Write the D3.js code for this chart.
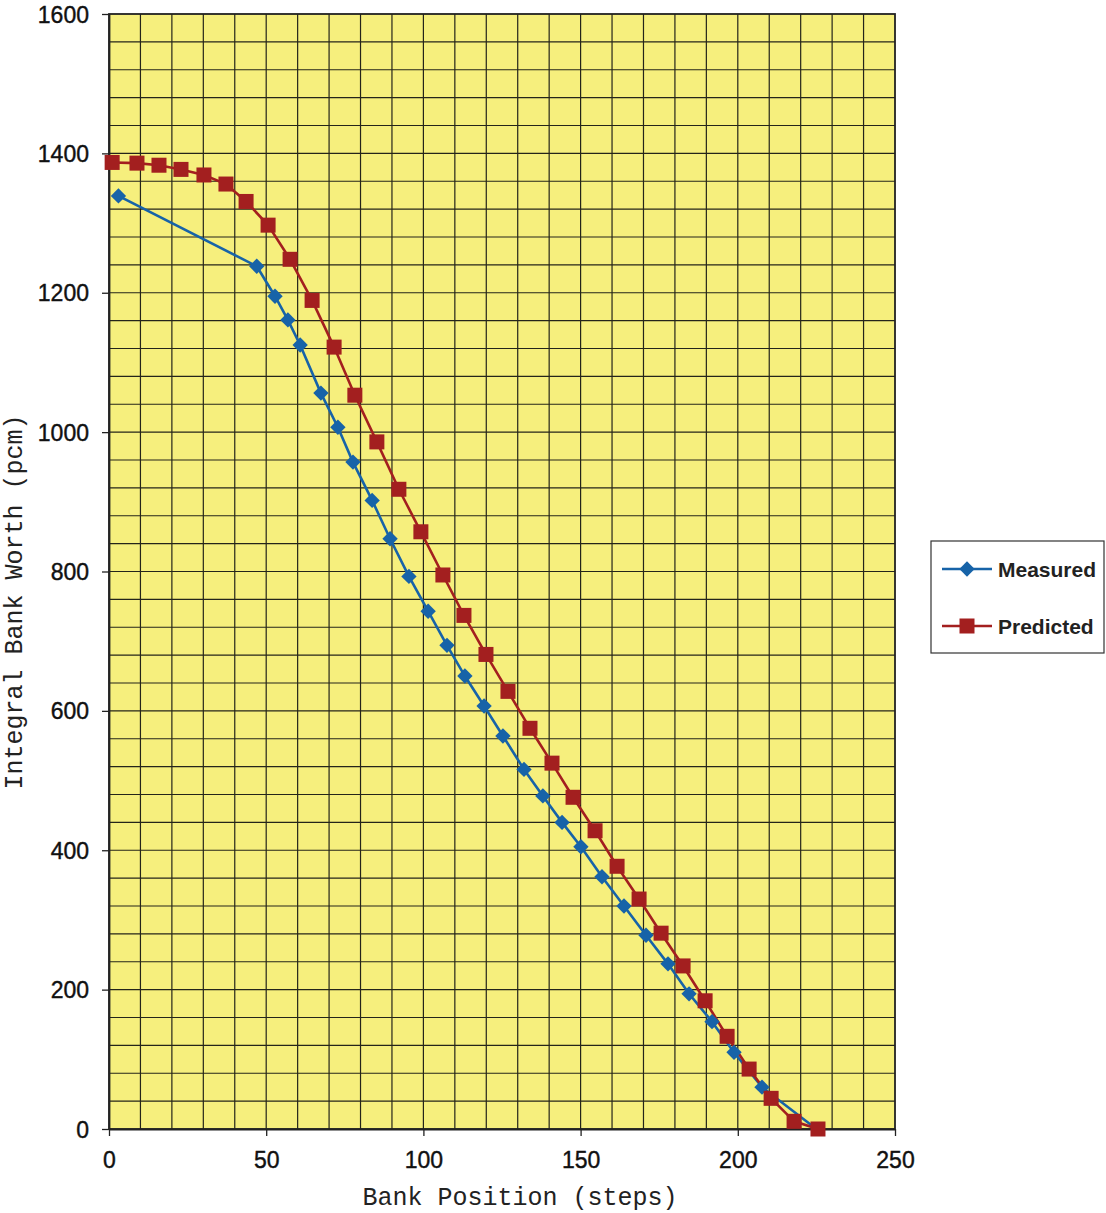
<!DOCTYPE html>
<meta charset="utf-8">
<head>
  <script src="https://cdn.jsdelivr.net/npm/d3@7/dist/d3.min.js" charset="utf-8"></script>
  <style>
    body { margin: 0; background: #fff; }
    svg { display: block; }
  </style>
</head>
<body>
<svg id="chart"></svg>
<script>

// bank position (steps) / integral worth (pcm)
var measuredX = [3, 47, 52.8, 56.9, 60.8, 67.4, 72.8, 77.6, 83.7, 89.4, 95.4, 101.5, 107.5, 113.2,
  119.3, 125.3, 132, 138, 144.1, 150.1, 156.8, 163.8, 170.8, 177.8, 184.5, 191.8, 198.8, 207.7, 225];
var measuredY = [1339, 1238, 1195, 1161, 1125, 1056, 1007, 957, 902, 847, 793, 743, 694, 650,
  607, 564, 516, 478, 440, 405, 362, 320, 278, 237, 194, 154, 110, 60, 0];

var predictedX = [1, 8.9, 15.9, 22.9, 30.2, 37.2, 43.6, 50.6, 57.6, 64.6, 71.6, 78.2, 85.2, 92.2,
  99.2, 106.2, 112.9, 119.9, 126.9, 133.9, 140.9, 147.6, 154.6, 161.6, 168.6, 175.6, 182.6,
  189.6, 196.6, 203.6, 210.6, 217.9, 225.5];
var predictedY = [1387, 1386, 1383, 1377, 1369, 1356, 1331, 1297, 1248, 1189, 1122, 1053, 986, 918,
  857, 795, 737, 681, 628, 575, 525, 476, 428, 377, 330, 281, 234, 184, 133, 86, 44, 11, 0];

var xTicks = [0, 50, 100, 150, 200, 250];
var yTicks = [0, 200, 400, 600, 800, 1000, 1200, 1400, 1600];

var width = 1106, height = 1213;
var pLeft = 109, pRight = 895, pTop = 14, pBottom = 1129;

var svg = d3.select("#chart").attr("width", width).attr("height", height);

var x = d3.scaleLinear().domain([0, 250]).range([pLeft, pRight]);
var y = d3.scaleLinear().domain([0, 1600]).range([pBottom, pTop]);

// yellow plot area
svg.append("rect")
  .attr("x", pLeft).attr("y", pTop)
  .attr("width", pRight - pLeft).attr("height", pBottom - pTop)
  .attr("fill", "#f6ef7d");

// grid: every 10 steps / every 40 pcm
var grid = svg.append("g").attr("stroke", "#24241a").attr("stroke-width", 1.2);
grid.selectAll(".vx").data(d3.range(10, 250, 10)).enter().append("line")
  .attr("x1", function(d){ return x(d); }).attr("x2", function(d){ return x(d); })
  .attr("y1", pTop).attr("y2", pBottom);
grid.selectAll(".hy").data(d3.range(40, 1600, 40)).enter().append("line")
  .attr("y1", function(d){ return y(d); }).attr("y2", function(d){ return y(d); })
  .attr("x1", pLeft).attr("x2", pRight);

// frame
svg.append("rect")
  .attr("x", pLeft).attr("y", pTop)
  .attr("width", pRight - pLeft).attr("height", pBottom - pTop)
  .attr("fill", "none").attr("stroke", "#222").attr("stroke-width", 1.8);

// axes
var xAxis = svg.append("g")
  .attr("transform", "translate(0," + pBottom + ")")
  .call(d3.axisBottom(x).tickValues(xTicks).tickFormat(d3.format("d"))
    .tickSize(7).tickPadding(16).tickSizeOuter(0));
var yAxis = svg.append("g")
  .attr("transform", "translate(" + pLeft + ",0)")
  .call(d3.axisLeft(y).tickValues(yTicks).tickFormat(d3.format("d"))
    .tickSize(7).tickPadding(13).tickSizeOuter(0));

[xAxis, yAxis].forEach(function(a){
  a.select(".domain").attr("stroke", "#222").attr("stroke-width", 1.8);
  a.selectAll(".tick line").attr("stroke", "#222").attr("stroke-width", 1.3);
  a.selectAll(".tick text")
    .attr("fill", "#111")
    .style("font-family", "'Liberation Sans', Arial, sans-serif")
    .style("font-size", "23px")
    .attr("stroke", "#111").attr("stroke-width", 0.4);
});
yAxis.selectAll(".tick text").attr("dy", "0.35em");

// axis titles
svg.append("text")
  .attr("x", (pLeft + pRight) / 2 + 18).attr("y", 1205)
  .attr("text-anchor", "middle")
  .style("font-family", "'Liberation Mono', 'Courier New', monospace")
  .style("font-size", "25px").attr("fill", "#222")
  .text("Bank Position (steps)");
svg.append("text")
  .attr("transform", "translate(22," + 602 + ") rotate(-90)")
  .attr("text-anchor", "middle")
  .style("font-family", "'Liberation Mono', 'Courier New', monospace")
  .style("font-size", "25px").attr("fill", "#222")
  .text("Integral Bank Worth (pcm)");

var blue = "#1763a8", red = "#a31f1f";

var line = d3.line()
  .x(function(d){ return x(d[0]); })
  .y(function(d){ return y(d[1]); });

var measured = d3.zip(measuredX, measuredY);
var predicted = d3.zip(predictedX, predictedY);

svg.append("path").datum(measured)
  .attr("d", line).attr("fill", "none").attr("stroke", blue).attr("stroke-width", 2.6);
svg.append("path").datum(predicted)
  .attr("d", line).attr("fill", "none").attr("stroke", red).attr("stroke-width", 2.6);

var diamond = d3.symbol().type(d3.symbolDiamond2).size(150);

svg.selectAll(".dm").data(measured.slice(0, measured.length - 1)).enter().append("path")
  .attr("d", diamond)
  .attr("transform", function(d){ return "translate(" + x(d[0]) + "," + y(d[1]) + ")"; })
  .attr("fill", blue);

svg.selectAll(".sq").data(predicted).enter().append("rect")
  .attr("x", function(d){ return x(d[0]) - 7.5; })
  .attr("y", function(d){ return y(d[1]) - 7.5; })
  .attr("width", 15).attr("height", 15)
  .attr("fill", red);

// legend
var lg = svg.append("g");
lg.append("rect")
  .attr("x", 931).attr("y", 541).attr("width", 173).attr("height", 112)
  .attr("fill", "#fff").attr("stroke", "#333").attr("stroke-width", 1.2);

var legendItems = [
  { name: "Measured", color: blue, y: 569, shape: "diamond" },
  { name: "Predicted", color: red, y: 626, shape: "square" }
];
legendItems.forEach(function(it){
  lg.append("line")
    .attr("x1", 942).attr("x2", 992).attr("y1", it.y).attr("y2", it.y)
    .attr("stroke", it.color).attr("stroke-width", 2.6);
  if (it.shape == "diamond") {
    lg.append("path").attr("d", diamond)
      .attr("transform", "translate(967," + it.y + ")").attr("fill", it.color);
  } else {
    lg.append("rect").attr("x", 959.5).attr("y", it.y - 7.5)
      .attr("width", 15).attr("height", 15).attr("fill", it.color);
  }
  lg.append("text")
    .attr("x", 998).attr("y", it.y).attr("dy", "0.36em")
    .style("font-family", "'Liberation Sans', Arial, sans-serif")
    .style("font-size", "21px").style("font-weight", "bold")
    .attr("fill", "#222")
    .text(it.name);
});

</script>
</body>
